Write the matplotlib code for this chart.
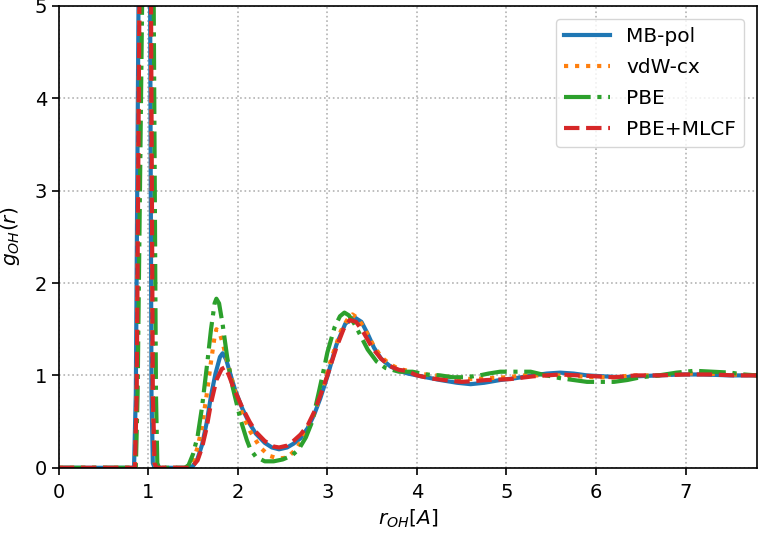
import matplotlib
matplotlib.use("Agg")
import matplotlib.pyplot as plt
import numpy as np

# MB-pol
r_mb = [0.0, 0.84, 0.86, 0.89, 0.95, 1.0, 1.02, 1.035, 1.05, 1.07, 1.45, 1.5, 1.55, 1.6, 1.65, 1.7,
        1.75, 1.8, 1.83, 1.87, 1.92, 1.97, 2.05, 2.13, 2.2, 2.3, 2.38, 2.46, 2.55, 2.62, 2.7,
        2.78, 2.85, 2.92, 3.0, 3.1, 3.2, 3.3, 3.38, 3.45, 3.52, 3.6, 3.7, 3.8, 3.9, 4.0, 4.1,
        4.26, 4.45, 4.6, 4.75, 4.93, 5.1, 5.3, 5.45, 5.6, 5.75, 5.9, 6.08, 6.3, 6.45, 6.7,
        6.94, 7.2, 7.5, 7.8]
g_mb = [0.0, 0.0, 0.8, 5.0, 15.0, 9.0, 5.0, 0.8, 0.05, 0.0, 0.0, 0.02, 0.1, 0.25, 0.48, 0.78,
        1.02, 1.2, 1.24, 1.17, 1.0, 0.84, 0.64, 0.48, 0.37, 0.27, 0.22, 0.2, 0.22, 0.26, 0.32,
        0.43, 0.57, 0.75, 0.99, 1.33, 1.56, 1.63, 1.58, 1.45, 1.3, 1.18, 1.1, 1.05, 1.02, 1.0, 0.98,
        0.95, 0.92, 0.905, 0.92, 0.95, 0.97, 1.0, 1.02, 1.03, 1.02, 1.0, 0.99, 0.98, 0.99, 1.0,
        1.01, 1.01, 1.0, 1.0]

# vdW-cx
r_vdw = [0.0, 0.85, 0.87, 0.90, 0.96, 1.01, 1.03, 1.05, 1.07, 1.09, 1.44, 1.5, 1.55, 1.6, 1.65,
         1.7, 1.74, 1.76, 1.79, 1.83, 1.9, 1.97, 2.05, 2.14, 2.25, 2.35, 2.45, 2.55, 2.65, 2.75,
         2.85, 2.95, 3.05, 3.15, 3.22, 3.28, 3.34, 3.42, 3.5, 3.6, 3.7, 3.8, 3.9, 4.0, 4.2, 4.4,
         4.6, 4.8, 5.0, 5.2, 5.4, 5.6, 5.8, 6.0, 6.2, 6.4, 6.7, 7.0, 7.2, 7.5, 7.8]
g_vdw = [0.0, 0.0, 0.8, 5.0, 15.0, 9.0, 5.0, 0.8, 0.05, 0.0, 0.0, 0.08, 0.22, 0.45, 0.78,
         1.15, 1.42, 1.5, 1.48, 1.35, 1.08, 0.82, 0.58, 0.39, 0.22, 0.13, 0.1, 0.11, 0.2, 0.36,
         0.58, 0.88, 1.2, 1.48, 1.6, 1.66, 1.62, 1.5, 1.35, 1.2, 1.12, 1.07, 1.05, 1.02, 1.0, 0.98,
         0.96, 0.97, 0.98, 1.0, 1.0, 1.0, 0.99, 0.98, 0.98, 1.0, 1.0, 1.02, 1.02, 1.01, 1.0]

# PBE
r_pbe = [0.0, 0.86, 0.88, 0.93, 0.98, 1.03, 1.06, 1.085, 1.10, 1.12, 1.41, 1.45, 1.5, 1.55, 1.6,
         1.66, 1.7, 1.74, 1.76, 1.79, 1.83, 1.88, 1.94, 2.03, 2.1, 2.14, 2.2, 2.3, 2.4, 2.5,
         2.6, 2.68, 2.76, 2.83, 2.9, 2.95, 3.0, 3.08, 3.14, 3.19, 3.24, 3.3, 3.36, 3.45, 3.55,
         3.65, 3.8, 3.95, 4.1, 4.26, 4.4, 4.55, 4.7, 4.8, 4.93, 5.1, 5.27, 5.4, 5.6, 5.75, 5.9,
         6.08, 6.2, 6.35, 6.5, 6.7, 6.9, 7.1, 7.3, 7.5, 7.65, 7.8]
g_pbe = [0.0, 0.0, 0.8, 5.0, 15.0, 9.0, 5.0, 0.8, 0.05, 0.0, 0.0, 0.03, 0.15, 0.34, 0.66,
         1.15, 1.5, 1.78, 1.83, 1.78, 1.55, 1.2, 0.88, 0.52, 0.3, 0.2, 0.12, 0.07, 0.07, 0.09,
         0.13, 0.2, 0.33, 0.5, 0.8, 1.02, 1.25, 1.52, 1.64, 1.68, 1.65, 1.56, 1.45, 1.28, 1.15,
         1.08, 1.04, 1.04, 1.01, 1.0, 0.98, 0.98, 1.0, 1.02, 1.04, 1.04, 1.04, 1.01, 0.97, 0.95, 0.93,
         0.93, 0.93, 0.95, 0.98, 1.0, 1.03, 1.05, 1.04, 1.03, 1.01, 1.0]

# PBE+MLCF
r_ml = [0.0, 0.85, 0.87, 0.90, 0.96, 1.01, 1.03, 1.05, 1.07, 1.09, 1.48, 1.55, 1.6, 1.65, 1.7,
        1.76, 1.82, 1.86, 1.9, 1.95, 2.05, 2.13, 2.2, 2.3, 2.4, 2.46, 2.55, 2.62, 2.7, 2.78,
        2.85, 2.92, 3.0, 3.1, 3.18, 3.25, 3.32, 3.4, 3.5, 3.6, 3.7, 3.8, 3.88, 4.0, 4.14, 4.3,
        4.5, 4.65, 4.78, 5.04, 5.3, 5.6, 5.8, 6.0, 6.2, 6.45, 6.7, 7.0, 7.3, 7.55, 7.8]
g_ml = [0.0, 0.0, 0.8, 5.0, 15.0, 9.0, 5.0, 0.8, 0.05, 0.0, 0.0, 0.08, 0.22, 0.43, 0.7,
        0.95, 1.07, 1.09, 1.0, 0.87, 0.65, 0.5, 0.39, 0.29, 0.23, 0.22, 0.24, 0.29, 0.36, 0.46,
        0.6, 0.78, 1.0, 1.3, 1.5, 1.6, 1.58, 1.47, 1.3, 1.18, 1.1, 1.06, 1.05, 1.0, 0.97, 0.95,
        0.93, 0.94, 0.95, 0.96, 0.99, 1.01, 1.0, 0.99, 0.98, 1.0, 1.0, 1.01, 1.01, 1.0, 1.0]

fig = plt.figure(figsize=(7.64, 5.34), dpi=100)
ax = fig.add_axes([0.077, 0.124, 0.914, 0.865])

ax.plot(r_mb, g_mb, '-', color='tab:blue', lw=3, label='MB-pol')
ax.plot(r_vdw, g_vdw, ':', color='tab:orange', lw=3, label='vdW-cx')
ax.plot(r_pbe, g_pbe, '-.', color='tab:green', lw=3, label='PBE')
ax.plot(r_ml, g_ml, '--', color='tab:red', lw=3, label='PBE+MLCF')

ax.set_xlim(0, 7.8)
ax.set_ylim(0, 5)
ax.grid(True, linestyle=':', color='gray', alpha=0.6, lw=1.2)
ax.tick_params(labelsize=14, length=5, width=1.2)
ax.tick_params(axis='x', pad=6)
for s in ax.spines.values():
    s.set_linewidth(1.2)
ax.set_xlabel(r'$r_{OH}[A]$', fontsize=14.5, labelpad=4)
ax.set_ylabel(r'$g_{OH}(r)$', fontsize=14.5, labelpad=9)
ax.legend(loc='upper right', fontsize=14.5, handlelength=2.3, labelspacing=0.6,
          borderaxespad=0.65)

fig.savefig('out.png', dpi=100)
